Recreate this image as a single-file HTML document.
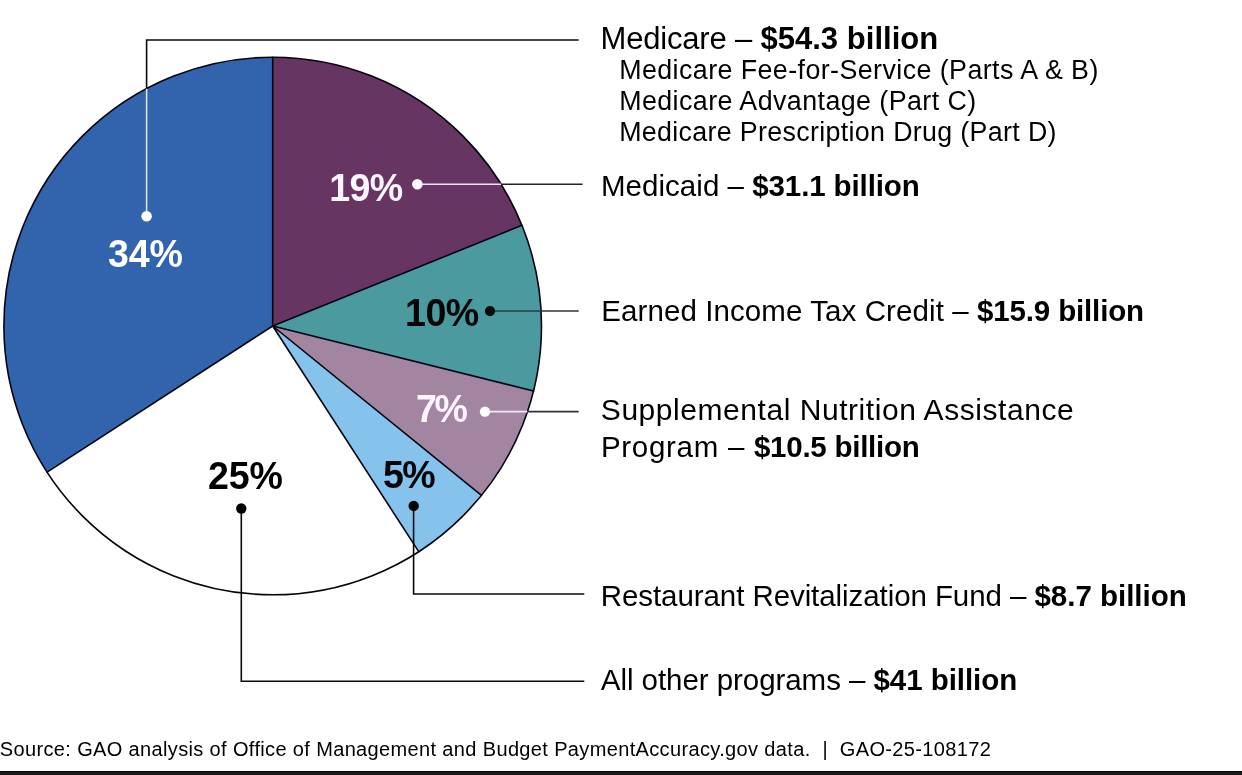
<!DOCTYPE html>
<html lang="en"><head><meta charset="utf-8"><title>Improper payments by program</title>
<style>
html,body{margin:0;padding:0;background:#fff;}
body{width:1242px;height:775px;overflow:hidden;position:relative;}
svg{position:absolute;left:0;top:0;display:block}
text{font-family:"Liberation Sans",Arial,Helvetica,sans-serif;}
</style></head><body>
<svg width="1242" height="775" viewBox="0 0 1242 775">
<rect x="0" y="0" width="1242" height="775" fill="#ffffff"/>
<g>
<path d="M272.7 326.0L272.70 57.20A268.8 268.8 0 0 1 521.93 225.31Z" fill="#673562"/>
<path d="M272.7 326.0L521.93 225.31A268.8 268.8 0 0 1 533.52 391.03Z" fill="#4b9a9f"/>
<path d="M272.7 326.0L533.52 391.03A268.8 268.8 0 0 1 481.45 495.34Z" fill="#a185a1"/>
<path d="M272.7 326.0L481.45 495.34A268.8 268.8 0 0 1 418.71 551.69Z" fill="#85c3ed"/>
<path d="M272.7 326.0L418.71 551.69A268.8 268.8 0 0 1 47.14 472.20Z" fill="#ffffff"/>
<path d="M272.7 326.0L47.14 472.20A268.8 268.8 0 0 1 272.70 57.20Z" fill="#3264ae"/>
</g>
<g stroke="#04040f" stroke-width="1.6" stroke-linecap="round" fill="none">
<line x1="272.7" y1="326.0" x2="272.70" y2="57.20"/>
<line x1="272.7" y1="326.0" x2="521.93" y2="225.31"/>
<line x1="272.7" y1="326.0" x2="533.52" y2="391.03"/>
<line x1="272.7" y1="326.0" x2="481.45" y2="495.34"/>
<line x1="272.7" y1="326.0" x2="418.71" y2="551.69"/>
<line x1="272.7" y1="326.0" x2="47.14" y2="472.20"/>
<circle cx="272.7" cy="326.0" r="268.8"/>
</g>
<g fill="none" stroke-width="1.6">
<path d="M146.6 216 V88.6" stroke="#d4e4f7"/>
<path d="M146.6 88.6 V40 H578.7" stroke="#0a0a0a"/>
<path d="M417.4 184.2 H501.1" stroke="#f3e3f3"/>
<path d="M501.1 184.2 H582.6" stroke="#222"/>
<path d="M490 311 H541.1" stroke="#1d3f42"/>
<path d="M541.1 311 H578.7" stroke="#333"/>
<path d="M485 411.6 H527.5" stroke="#f8e6f8"/>
<path d="M527.5 411.6 H578.7" stroke="#333"/>
<path d="M413.6 506 V594 H584.3" stroke="#0a0a0a"/>
<path d="M241.3 508.5 V681.2 H584.3" stroke="#0a0a0a"/>
</g>
<g>
<circle cx="146.6" cy="216.3" r="5.3" fill="#fff"/>
<circle cx="417.4" cy="184.3" r="5.3" fill="#fff6ff"/>
<circle cx="490" cy="311.1" r="5.1" fill="#0a0a0a"/>
<circle cx="485" cy="411.6" r="5.2" fill="#fff"/>
<circle cx="413.7" cy="505.9" r="5.2" fill="#000"/>
<circle cx="241.3" cy="508.5" r="5.2" fill="#000"/>
</g>
<g>
<text x="600.52" y="49.00" font-size="31.0" letter-spacing="-0.072" fill="#000" xml:space="preserve" style="white-space:pre"><tspan letter-spacing="-0.190">Medicare – </tspan><tspan font-weight="bold" letter-spacing="0.037">$54.3 billion</tspan></text>
<text x="619.15" y="79.00" font-size="26.8" letter-spacing="0.434" fill="#000" xml:space="preserve" style="white-space:pre">Medicare Fee-for-Service (Parts A &amp; B)</text>
<text x="619.15" y="110.00" font-size="26.8" letter-spacing="0.444" fill="#000" xml:space="preserve" style="white-space:pre">Medicare Advantage (Part C)</text>
<text x="619.15" y="141.00" font-size="26.8" letter-spacing="0.337" fill="#000" xml:space="preserve" style="white-space:pre">Medicare Prescription Drug (Part D)</text>
<text x="600.95" y="196.00" font-size="29.5" letter-spacing="-0.040" fill="#000" xml:space="preserve" style="white-space:pre"><tspan letter-spacing="0.042">Medicaid – </tspan><tspan font-weight="bold" letter-spacing="-0.115">$31.1 billion</tspan></text>
<text x="601.22" y="321.00" font-size="29.5" letter-spacing="0.018" fill="#000" xml:space="preserve" style="white-space:pre"><tspan letter-spacing="0.092">Earned Income Tax Credit – </tspan><tspan font-weight="bold" letter-spacing="-0.149">$15.9 billion</tspan></text>
<text x="600.83" y="420.00" font-size="30.0" letter-spacing="0.548" fill="#000" xml:space="preserve" style="white-space:pre">Supplemental Nutrition Assistance</text>
<text x="600.95" y="457.00" font-size="29.5" letter-spacing="0.186" fill="#000" xml:space="preserve" style="white-space:pre"><tspan letter-spacing="0.706">Program – </tspan><tspan font-weight="bold" letter-spacing="-0.248">$10.5 billion</tspan></text>
<text x="600.76" y="606.00" font-size="29.5" letter-spacing="-0.061" fill="#000" xml:space="preserve" style="white-space:pre"><tspan letter-spacing="-0.076">Restaurant Revitalization Fund – </tspan><tspan font-weight="bold" letter-spacing="-0.016">$8.7 billion</tspan></text>
<text x="600.80" y="690.00" font-size="29.5" letter-spacing="-0.054" fill="#000" xml:space="preserve" style="white-space:pre">All other programs – <tspan font-weight="bold">$41 billion</tspan></text>
<text x="-0.18" y="756.00" font-size="20.0" letter-spacing="0.356" fill="#000" xml:space="preserve" style="white-space:pre">Source: GAO analysis of Office of Management and Budget PaymentAccuracy.gov data.  |  GAO-25-108172</text>
<text transform="translate(107.88 266.60) scale(1 1.045)" font-size="37.6" letter-spacing="-0.124" fill="#fff"><tspan font-weight="bold">34%</tspan></text>
<text transform="translate(329.29 201.20) scale(1 1.045)" font-size="37.6" letter-spacing="-0.700" fill="#fff5ff"><tspan font-weight="bold">19%</tspan></text>
<text transform="translate(405.02 325.60) scale(1 1.045)" font-size="37.6" letter-spacing="-0.537" fill="#050505"><tspan font-weight="bold">10%</tspan></text>
<text transform="translate(416.00 422.20) scale(1 1.045)" font-size="37.6" letter-spacing="-2.490" fill="#fff3ff"><tspan font-weight="bold">7%</tspan></text>
<text transform="translate(382.91 487.60) scale(1 1.045)" font-size="37.6" letter-spacing="-1.467" fill="#05050a"><tspan font-weight="bold">5%</tspan></text>
<text transform="translate(208.00 488.90) scale(1 1.045)" font-size="37.6" letter-spacing="-0.147" fill="#000"><tspan font-weight="bold">25%</tspan></text>
</g>
<rect x="0" y="771" width="1242" height="4" fill="#1a1a1a"/><rect x="0" y="771" width="1242" height="1" fill="#070707"/>
</svg>
</body></html>
